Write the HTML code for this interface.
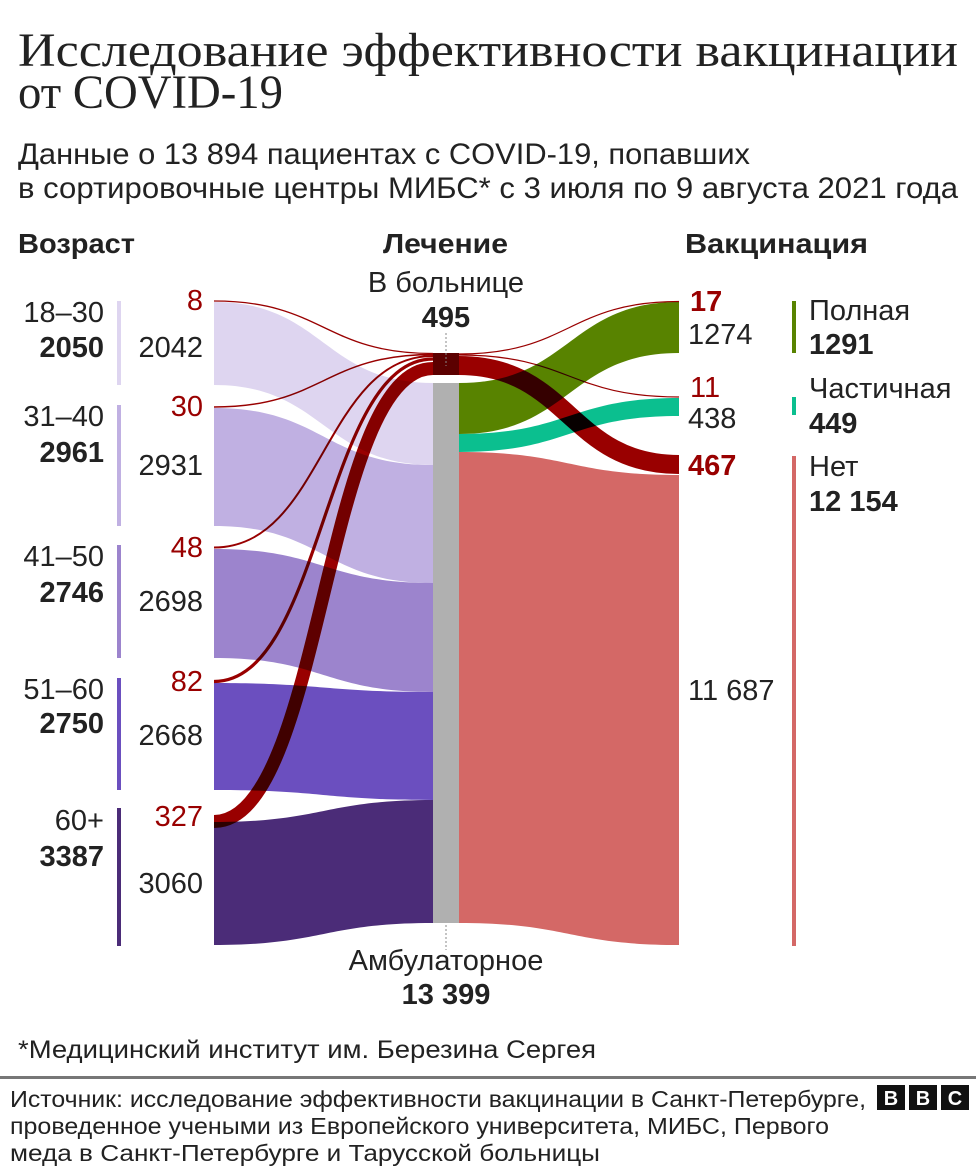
<!DOCTYPE html>
<html><head><meta charset="utf-8"><style>
html,body{margin:0;padding:0;background:#fff}
svg{display:block}
text{font-family:"Liberation Sans","DejaVu Sans",sans-serif;fill:#222}
.s{font-family:"Liberation Serif",serif}
.b{font-weight:bold}
.r{fill:#990000}
</style></head><body>
<svg width="976" height="1176" viewBox="0 0 976 1176" xmlns="http://www.w3.org/2000/svg">
<text class="s" x="18" y="66" font-size="48" textLength="940" lengthAdjust="spacingAndGlyphs">Исследование эффективности вакцинации</text>
<text class="s" x="18" y="108" font-size="48" textLength="265" lengthAdjust="spacingAndGlyphs">от COVID-19</text>
<text x="18" y="164" font-size="30" textLength="732" lengthAdjust="spacingAndGlyphs">Данные о 13 894 пациентах с COVID-19, попавших</text>
<text x="18" y="198" font-size="30" textLength="940" lengthAdjust="spacingAndGlyphs">в сортировочные центры МИБС* с 3 июля по 9 августа 2021 года</text>
<text class="b" x="18" y="253" font-size="28" textLength="117" lengthAdjust="spacingAndGlyphs">Возраст</text>
<text class="b" x="383" y="253" font-size="28" textLength="125" lengthAdjust="spacingAndGlyphs">Лечение</text>
<text class="b" x="685" y="253" font-size="28" textLength="183" lengthAdjust="spacingAndGlyphs">Вакцинация</text>

<rect x="117" y="301" width="4" height="84" fill="#ded5f0"/>
<rect x="117" y="405" width="4" height="121" fill="#c0b0e2"/>
<rect x="117" y="545" width="4" height="113" fill="#9c84cd"/>
<rect x="117" y="678" width="4" height="112" fill="#6b4fbf"/>
<rect x="117" y="808" width="4" height="138" fill="#4b2c78"/>

<path d="M214,302 C323,302 324,383 433,383 L433,465 C324,465 323,385 214,385Z" fill="#ded5f0"/>
<path d="M214,408 C323,408 324,465 433,465 L433,583 C324,583 323,526 214,526Z" fill="#c0b0e2"/>
<path d="M214,549 C323,549 324,583 433,583 L433,692 C324,692 323,658 214,658Z" fill="#9c84cd"/>
<path d="M214,683 C323,683 324,692 433,692 L433,800 C324,800 323,790 214,790Z" fill="#6b4fbf"/>
<path d="M214,822 C323,822 324,800 433,800 L433,923 C324,923 323,945 214,945Z" fill="#4b2c78"/>

<rect x="433" y="383" width="26" height="540" fill="#b0b0b0"/>
<path d="M459,383 C569,383 569,302 679,302 L679,353 C569,353 569,434 459,434Z" fill="#588300"/>
<path d="M459,434 C569,434 569,398 679,398 L679,416 C569,416 569,452 459,452Z" fill="#0bbf8f"/>
<path d="M459,452 C569,452 569,475 679,475 L679,945 C569,945 569,923 459,923Z" fill="#d46866"/>

<g fill="none" stroke="#990000" style="mix-blend-mode:multiply">
<path d="M214,301 C323,301 324,353.5 433,353.5" stroke-width="1.3"/>
<path d="M214,407 C323,407 324,354.5 433,354.5" stroke-width="1.5"/>
<path d="M214,547.5 C323,547.5 324,356 433,356" stroke-width="2"/>
<path d="M214,681.5 C323,681.5 324,359 433,359" stroke-width="3.2"/>
<path d="M214,821.5 C323,821.5 324,368.5 433,368.5" stroke-width="13"/>
<path d="M459,354 C569,354 569,301.5 679,301.5" stroke-width="1.2"/>
<path d="M459,355 C569,355 569,397 679,397" stroke-width="1.2"/>
<path d="M459,365.5 C569,365.5 569,464.5 679,464.5" stroke-width="19"/>
</g>
<rect x="433" y="353" width="26" height="22" fill="#5c0000"/>
<line x1="446" y1="333" x2="446" y2="366" stroke="#888" stroke-width="1" stroke-dasharray="2,2"/>
<line x1="446" y1="925" x2="446" y2="950" stroke="#888" stroke-width="1" stroke-dasharray="2,2"/>

<rect x="792" y="301" width="4" height="52" fill="#588300"/>
<rect x="792" y="397" width="4" height="18" fill="#0bbf8f"/>
<rect x="792" y="456" width="4" height="490" fill="#d46866"/>

<g font-size="29" text-anchor="end">
<text x="104" y="322">18–30</text><text class="b" x="104" y="357">2050</text>
<text x="104" y="426">31–40</text><text class="b" x="104" y="462">2961</text>
<text x="104" y="566">41–50</text><text class="b" x="104" y="602">2746</text>
<text x="104" y="699">51–60</text><text class="b" x="104" y="733">2750</text>
<text x="104" y="830">60+</text><text class="b" x="104" y="866">3387</text>
<text class="r" x="203" y="310">8</text><text x="203" y="357">2042</text>
<text class="r" x="203" y="416">30</text><text x="203" y="475">2931</text>
<text class="r" x="203" y="557">48</text><text x="203" y="611">2698</text>
<text class="r" x="203" y="691">82</text><text x="203" y="745">2668</text>
<text class="r" x="203" y="826">327</text><text x="203" y="893">3060</text>
</g>
<g font-size="29" text-anchor="middle">
<text x="446" y="292">В больнице</text><text class="b" x="446" y="327">495</text>
<text x="446" y="970">Амбулаторное</text><text class="b" x="446" y="1004">13 399</text>
</g>
<g font-size="29">
<text class="b r" x="690" y="311">17</text><text x="688" y="344">1274</text>
<text class="r" x="690" y="397">11</text><text x="688" y="428">438</text>
<text class="b r" x="688" y="475">467</text>
<text x="688" y="700">11 687</text>
<text x="809" y="320">Полная</text><text class="b" x="809" y="354">1291</text>
<text x="809" y="398">Частичная</text><text class="b" x="809" y="433">449</text>
<text x="809" y="476">Нет</text><text class="b" x="809" y="511">12 154</text>
</g>

<text x="18" y="1058" font-size="25" textLength="578" lengthAdjust="spacingAndGlyphs">*Медицинский институт им. Березина Сергея</text>
<rect x="0" y="1076" width="976" height="3" fill="#777"/>
<g font-size="23">
<text x="10" y="1107" textLength="856" lengthAdjust="spacingAndGlyphs">Источник: исследование эффективности вакцинации в Санкт-Петербурге,</text>
<text x="10" y="1134" textLength="819" lengthAdjust="spacingAndGlyphs">проведенное учеными из Европейского университета, МИБС, Первого</text>
<text x="10" y="1161" textLength="590" lengthAdjust="spacingAndGlyphs">меда в Санкт-Петербурге и Тарусской больницы</text>
</g>
<rect x="877" y="1085" width="28" height="25" fill="#111"/>
<rect x="909" y="1085" width="28" height="25" fill="#111"/>
<rect x="941" y="1085" width="28" height="25" fill="#111"/>
<g font-size="20" font-weight="bold" text-anchor="middle">
<text x="891" y="1105" style="fill:#fff">B</text><text x="923" y="1105" style="fill:#fff">B</text><text x="955" y="1105" style="fill:#fff">C</text>
</g>
</svg>
</body></html>
